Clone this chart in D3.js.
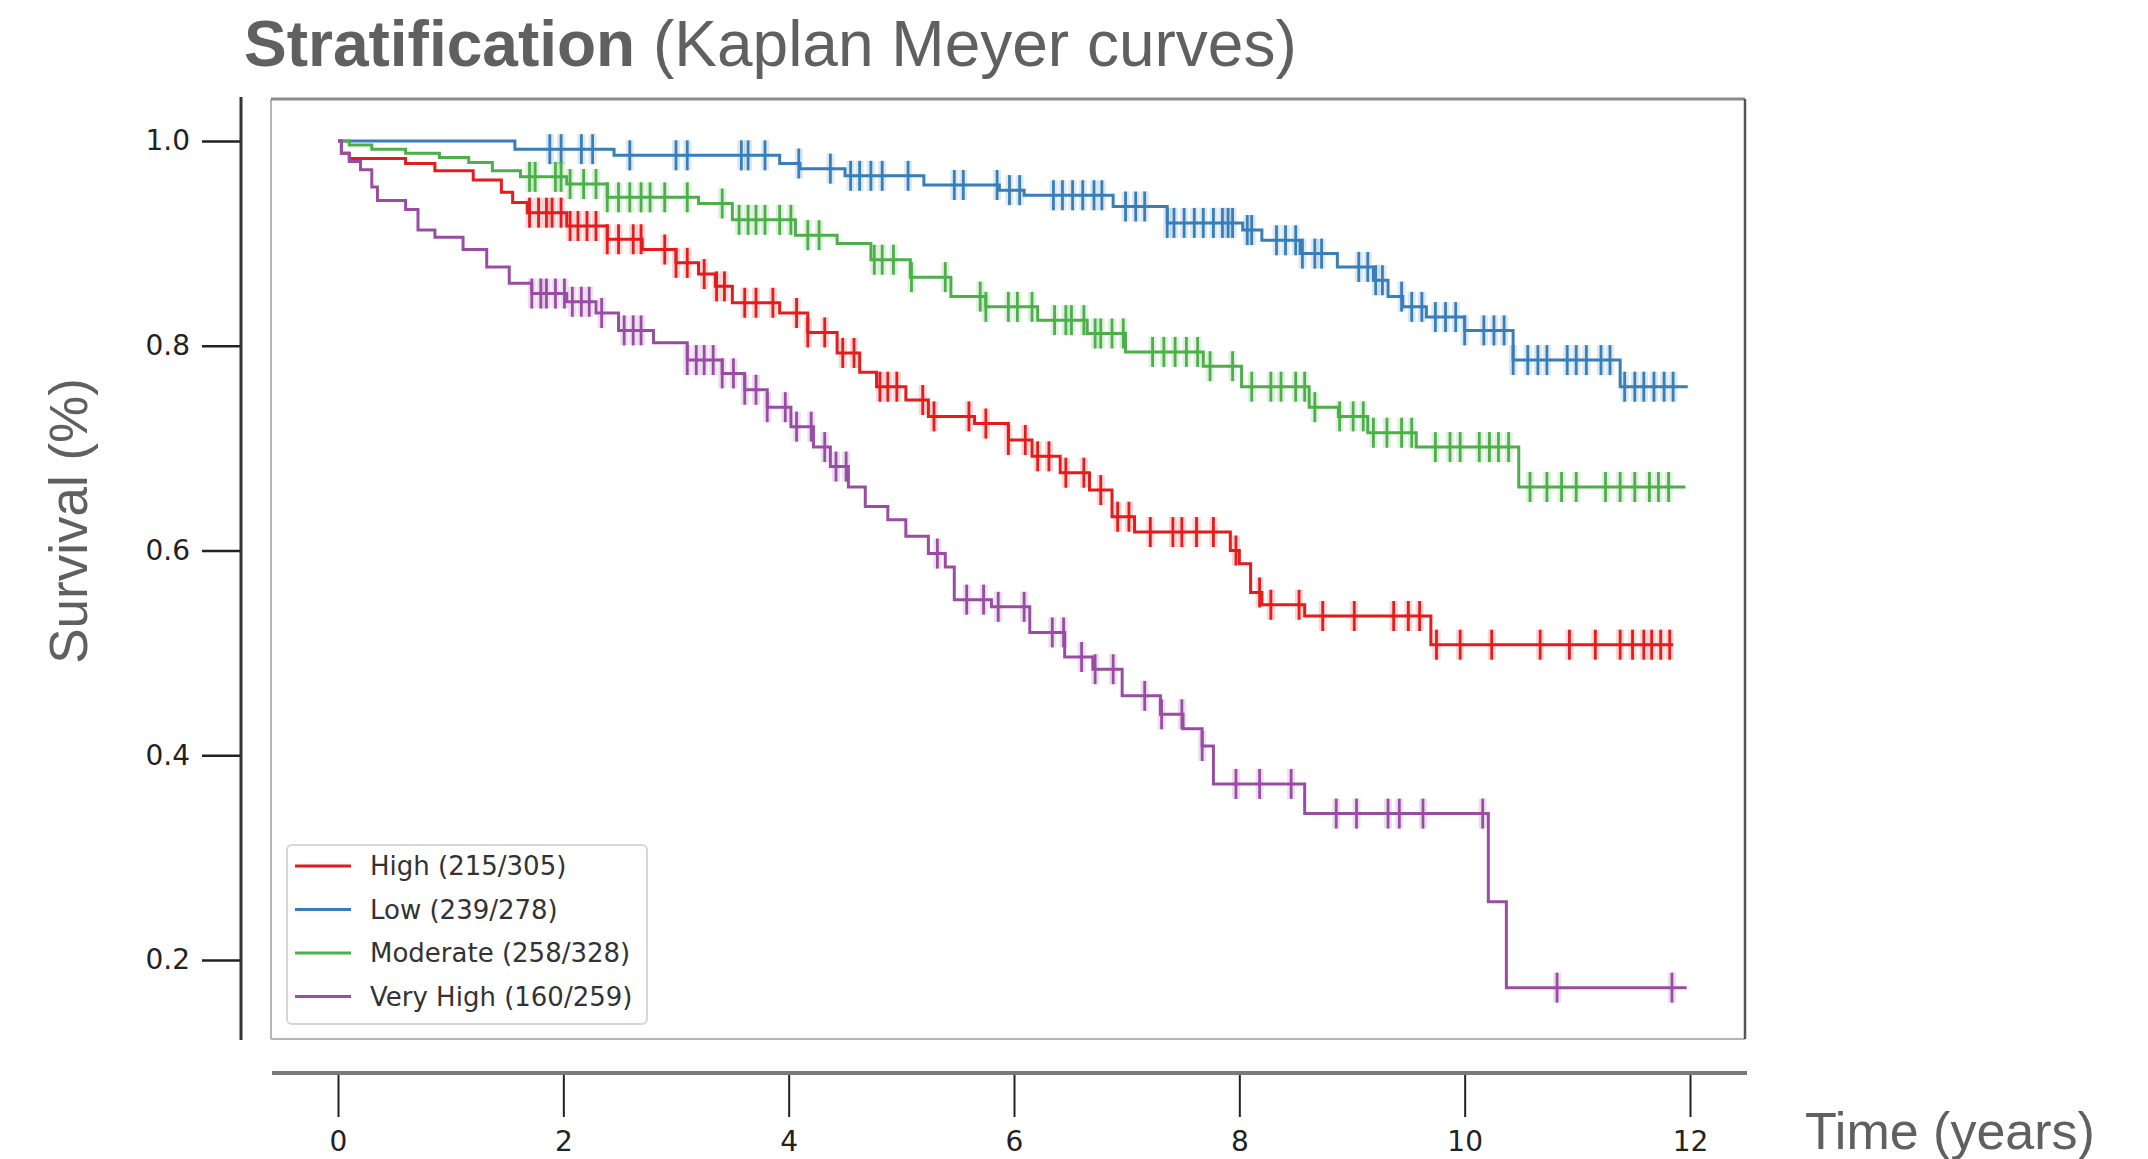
<!DOCTYPE html>
<html>
<head>
<meta charset="utf-8">
<script src="https://cdn.jsdelivr.net/npm/d3@7"></script>
<style>
  body { margin: 0; background: #fff; }
  svg { display: block; }
  .tick-label { font-family: "DejaVu Sans", sans-serif; font-size: 28px; fill: #222; }
  .axis-title { font-family: "Liberation Sans", Arial, sans-serif; fill: #606060; }
  .legend-text { font-family: "DejaVu Sans", sans-serif; font-size: 26px; fill: #333; }
</style>
</head>
<body>
<div id="chart"></div>
<script>
// Kaplan-Meier step data (time in years, survival fraction)
const highTimes = [0, 0.03, 0.1, 0.6, 0.86, 1.2, 1.45, 1.55, 1.68, 2.03, 2.39, 2.7, 3.0, 3.2, 3.35, 3.5, 3.92, 4.17, 4.43, 4.63, 4.78, 5.04, 5.24, 5.65, 5.95, 6.16, 6.41, 6.67, 6.87, 7.07, 7.92, 8.0, 8.1, 8.2, 8.58, 9.7, 11.85];
const highSurv = [1, 0.988, 0.983, 0.978, 0.971, 0.962, 0.95, 0.94, 0.93, 0.917, 0.904, 0.894, 0.881, 0.87, 0.858, 0.842, 0.832, 0.813, 0.793, 0.774, 0.76, 0.747, 0.731, 0.724, 0.708, 0.692, 0.676, 0.659, 0.633, 0.618, 0.6, 0.587, 0.559, 0.547, 0.536, 0.508, 0.508];
const highCensor = [1.7, 1.78, 1.85, 1.9, 1.98, 2.06, 2.13, 2.21, 2.29, 2.39, 2.49, 2.62, 2.69, 2.9, 3.0, 3.1, 3.25, 3.36, 3.43, 3.61, 3.71, 3.86, 4.07, 4.17, 4.32, 4.48, 4.58, 4.81, 4.88, 4.96, 5.19, 5.29, 5.6, 5.75, 5.95, 6.1, 6.21, 6.31, 6.46, 6.62, 6.77, 6.92, 7.02, 7.21, 7.41, 7.49, 7.62, 7.77, 7.97, 8.18, 8.28, 8.53, 8.74, 9.02, 9.37, 9.5, 9.6, 9.75, 9.96, 10.24, 10.67, 10.93, 11.16, 11.38, 11.49, 11.59, 11.66, 11.74, 11.82];

const lowTimes = [0, 1.57, 2.45, 3.92, 4.1, 4.5, 5.2, 5.87, 6.09, 6.88, 7.36, 8.03, 8.2, 8.54, 8.87, 9.19, 9.32, 9.45, 9.66, 10.0, 10.43, 11.38, 11.98];
const lowSurv = [1, 0.992, 0.986, 0.978, 0.973, 0.966, 0.957, 0.952, 0.947, 0.936, 0.92, 0.913, 0.903, 0.89, 0.877, 0.864, 0.848, 0.838, 0.828, 0.815, 0.786, 0.76, 0.76];
const lowCensor = [1.88, 1.98, 2.16, 2.26, 2.59, 3.0, 3.1, 3.58, 3.64, 3.79, 4.09, 4.37, 4.55, 4.63, 4.73, 4.83, 5.06, 5.47, 5.55, 5.85, 5.96, 6.05, 6.35, 6.43, 6.52, 6.61, 6.71, 6.78, 6.99, 7.08, 7.16, 7.36, 7.42, 7.51, 7.6, 7.68, 7.77, 7.85, 7.9, 7.94, 8.07, 8.11, 8.33, 8.41, 8.5, 8.56, 8.67, 8.73, 9.06, 9.14, 9.21, 9.27, 9.44, 9.53, 9.62, 9.74, 9.83, 9.92, 10.0, 10.17, 10.26, 10.35, 10.43, 10.56, 10.65, 10.73, 10.91, 10.99, 11.08, 11.21, 11.29, 11.42, 11.51, 11.59, 11.68, 11.77, 11.85];

const modTimes = [0, 0.1, 0.3, 0.6, 0.9, 1.16, 1.37, 1.62, 2.03, 2.39, 3.2, 3.5, 4.06, 4.43, 4.73, 5.08, 5.44, 5.75, 6.21, 6.65, 6.99, 7.68, 8.02, 8.62, 8.88, 9.14, 9.57, 10.48, 11.96];
const modSurv = [1, 0.996, 0.992, 0.988, 0.984, 0.979, 0.971, 0.965, 0.958, 0.945, 0.939, 0.923, 0.908, 0.9, 0.884, 0.867, 0.848, 0.838, 0.825, 0.812, 0.794, 0.78, 0.76, 0.74, 0.731, 0.715, 0.701, 0.662, 0.662];
const modCensor = [1.7, 1.75, 1.93, 1.98, 2.06, 2.18, 2.29, 2.39, 2.49, 2.59, 2.69, 2.77, 2.9, 3.1, 3.41, 3.56, 3.64, 3.71, 3.79, 3.92, 4.02, 4.17, 4.27, 4.76, 4.83, 4.93, 5.09, 5.39, 5.7, 5.75, 5.95, 6.03, 6.16, 6.36, 6.46, 6.51, 6.62, 6.72, 6.77, 6.87, 6.97, 7.23, 7.33, 7.43, 7.53, 7.63, 7.74, 7.94, 8.11, 8.28, 8.37, 8.5, 8.58, 8.67, 8.89, 9.01, 9.1, 9.19, 9.31, 9.44, 9.53, 9.74, 9.87, 9.96, 10.13, 10.22, 10.3, 10.39, 10.58, 10.73, 10.86, 10.99, 11.25, 11.38, 11.51, 11.64, 11.72, 11.81];

const vhighTimes = [0, 0.03, 0.1, 0.2, 0.3, 0.35, 0.6, 0.71, 0.86, 1.11, 1.32, 1.52, 1.72, 2.03, 2.29, 2.49, 2.8, 3.1, 3.41, 3.61, 3.81, 4.02, 4.22, 4.37, 4.53, 4.68, 4.88, 5.04, 5.24, 5.39, 5.47, 5.8, 6.14, 6.45, 6.7, 6.96, 7.3, 7.5, 7.67, 7.77, 8.58, 10.21, 10.37, 11.97];
const vhighSurv = [1, 0.988, 0.98, 0.972, 0.955, 0.942, 0.933, 0.913, 0.906, 0.894, 0.877, 0.861, 0.851, 0.843, 0.832, 0.815, 0.803, 0.786, 0.773, 0.757, 0.74, 0.721, 0.701, 0.682, 0.662, 0.643, 0.63, 0.614, 0.597, 0.584, 0.552, 0.545, 0.52, 0.496, 0.484, 0.458, 0.44, 0.426, 0.409, 0.372, 0.343, 0.257, 0.173, 0.173];
const vhighCensor = [1.72, 1.8, 1.85, 1.93, 2.01, 2.08, 2.16, 2.23, 2.34, 2.54, 2.62, 2.69, 3.1, 3.18, 3.25, 3.33, 3.41, 3.51, 3.61, 3.71, 3.81, 3.97, 4.07, 4.2, 4.32, 4.42, 4.51, 5.32, 5.58, 5.73, 5.86, 6.09, 6.34, 6.44, 6.6, 6.72, 6.88, 7.16, 7.31, 7.49, 7.67, 7.97, 8.18, 8.46, 8.86, 9.04, 9.32, 9.42, 9.63, 10.16, 10.82, 11.84];

const seriesNames = ['High (215/305)', 'Low (239/278)', 'Moderate (258/328)', 'Very High (160/259)'];
const seriesColors = ['#e41a1c', '#377eb8', '#4daf4a', '#984ea3'];
const xTicks = [0, 2, 4, 6, 8, 10, 12];
const yTicks = [0.2, 0.4, 0.6, 0.8, 1.0];

const series = [
  { times: highTimes, surv: highSurv, censor: highCensor },
  { times: lowTimes, surv: lowSurv, censor: lowCensor },
  { times: modTimes, surv: modSurv, censor: modCensor },
  { times: vhighTimes, surv: vhighSurv, censor: vhighCensor },
].map((s, i) => ({ ...s, name: seriesNames[i], color: seriesColors[i] }));

const W = 2148, H = 1159;
const svg = d3.select('#chart').append('svg').attr('width', W).attr('height', H);
svg.append('rect').attr('width', W).attr('height', H).attr('fill', '#fff');

const x = d3.scaleLinear().domain([0, 12]).range([338, 1690]);
const y = d3.scaleLinear().domain([0.2, 1.0]).range([960, 141]);

// slight blur to match the soft, upscaled look of the original
const defs = svg.append('defs');
defs.append('filter').attr('id', 'soft')
  .append('feGaussianBlur').attr('stdDeviation', 0.7);

// plot frame (top/right darker like the original)
const fx0 = 271, fx1 = 1745, fy0 = 99, fy1 = 1039;
svg.append('line').attr('x1', fx0).attr('x2', fx0).attr('y1', fy0).attr('y2', fy1).attr('stroke', '#b5b5b5').attr('stroke-width', 2);
svg.append('line').attr('x1', fx0).attr('x2', fx1).attr('y1', fy1).attr('y2', fy1).attr('stroke', '#b5b5b5').attr('stroke-width', 2);
svg.append('line').attr('x1', fx0).attr('x2', fx1).attr('y1', fy0).attr('y2', fy0).attr('stroke', '#8a8a8a').attr('stroke-width', 3);
svg.append('line').attr('x1', fx1).attr('x2', fx1).attr('y1', fy0).attr('y2', fy1).attr('stroke', '#555').attr('stroke-width', 2.5);

// y axis, offset to the left of the frame
const yAxis = svg.append('g').attr('transform', 'translate(241,0)')
  .call(d3.axisLeft(y).tickValues(yTicks).tickFormat(d3.format('.1f')).tickSize(39).tickPadding(12));
yAxis.select('.domain').remove();
yAxis.selectAll('.tick line').attr('stroke', '#222').attr('stroke-width', 2.5);
yAxis.selectAll('.tick text').attr('class', 'tick-label').attr('fill', null);
svg.append('line').attr('x1', 241).attr('x2', 241).attr('y1', 97).attr('y2', 1040)
  .attr('stroke', '#333').attr('stroke-width', 3);

// x axis, offset below the frame
const xAxis = svg.append('g').attr('transform', 'translate(0,1074)')
  .call(d3.axisBottom(x).tickValues(xTicks).tickSize(43).tickPadding(14));
xAxis.select('.domain').remove();
xAxis.selectAll('.tick line').attr('stroke', '#222').attr('stroke-width', 2);
xAxis.selectAll('.tick text').attr('class', 'tick-label').attr('fill', null);
svg.append('line').attr('x1', 272).attr('x2', 1747).attr('y1', 1073).attr('y2', 1073)
  .attr('stroke', '#7a7a7a').attr('stroke-width', 4);

// curves
const line = d3.line().x(d => x(d[0])).y(d => y(d[1])).curve(d3.curveStepAfter);
const plot = svg.append('g').attr('filter', 'url(#soft)');

series.forEach(s => {
  const pts = s.times.map((t, i) => [t, s.surv[i]]);
  const lookup = t => s.surv[Math.max(0, d3.bisectRight(s.times, t) - 1)];

  // faint halo behind censor marks, like the smeared ticks in the original
  plot.append('g').selectAll('line').data(s.censor).join('line')
    .attr('x1', d => x(d)).attr('x2', d => x(d))
    .attr('y1', d => y(lookup(d)) - 15).attr('y2', d => y(lookup(d)) + 15)
    .attr('stroke', s.color).attr('stroke-width', 8).attr('stroke-opacity', 0.18);

  plot.append('path').datum(pts)
    .attr('d', line)
    .attr('fill', 'none')
    .attr('stroke', s.color)
    .attr('stroke-width', 3);

  plot.append('g').selectAll('line').data(s.censor).join('line')
    .attr('x1', d => x(d)).attr('x2', d => x(d))
    .attr('y1', d => y(lookup(d)) - 15).attr('y2', d => y(lookup(d)) + 15)
    .attr('stroke', s.color).attr('stroke-width', 2.8);
});

// legend
const lg = svg.append('g').attr('transform', 'translate(287,845)');
lg.append('rect').attr('width', 360).attr('height', 179).attr('rx', 5)
  .attr('fill', '#fff').attr('stroke', '#d6d6d6').attr('stroke-width', 2);
series.forEach((s, i) => {
  const yy = 21 + i * 43.5;
  lg.append('line').attr('x1', 8).attr('x2', 64).attr('y1', yy).attr('y2', yy)
    .attr('stroke', s.color).attr('stroke-width', 3);
  lg.append('text').attr('class', 'legend-text').attr('x', 83).attr('y', yy + 9).text(s.name);
});

// titles
const title = svg.append('text').attr('x', 244).attr('y', 66)
  .attr('class', 'axis-title').attr('font-size', 64).attr('fill', '#555');
title.append('tspan').attr('font-weight', 'bold').text('Stratification');
title.append('tspan').text(' (Kaplan Meyer curves)');

svg.append('text').attr('class', 'axis-title').attr('font-size', 53)
  .attr('transform', 'translate(87,521) rotate(-90)').attr('text-anchor', 'middle')
  .text('Survival (%)');

svg.append('text').attr('class', 'axis-title').attr('font-size', 52)
  .attr('x', 1805).attr('y', 1149).text('Time (years)');
</script>
</body>
</html>
